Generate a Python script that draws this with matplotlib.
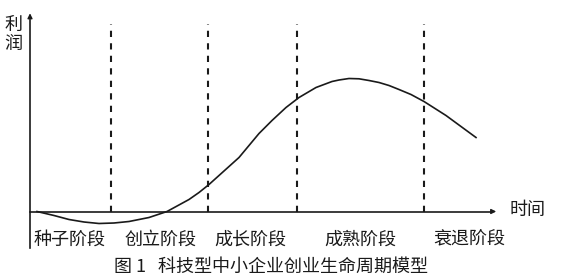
import matplotlib
matplotlib.use("Agg")
import matplotlib.pyplot as plt

plt.rcParams['font.family'] = ['Noto Sans CJK SC', 'DejaVu Sans']

# Curve: time (x) vs profit (y), arbitrary units
time = [7, 24, 39, 54, 69, 84, 99, 119, 137, 159, 169, 179, 189, 199, 209, 219, 229,
        242, 256, 269, 286, 302, 309, 319, 329, 339, 349, 359, 369, 381, 394, 405, 416, 431, 446]
profit = [0, -4, -8, -10.5, -12, -11.5, -10, -6, 0, 12, 19, 27, 36, 45, 54, 66, 78,
          91, 104, 114, 124, 130, 131.5, 133, 132.7, 131, 129, 126, 122, 117, 110, 103, 96, 85, 74]

stage_bounds = [81, 178, 267, 394]
stage_labels = ["种子阶段", "创立阶段", "成长阶段", "成熟阶段", "衰退阶段"]
stage_label_x = [40, 131, 220, 330, 439]
x_label = "时间"
y_label = "利\n润"
caption = "图 1   科技型中小企业创业生命周期模型"

fig = plt.figure(figsize=(5.7, 2.78), dpi=100)
ax = fig.add_axes([0, 0, 1, 1])
ax.set_xlim(-30, 540)
ax.set_ylim(-66.5, 211.5)
ax.axis('off')

ink = '#1a1a1a'
# axes
ax.plot([0, 0], [-36, 192], color=ink, lw=1.2)
ax.annotate('', xy=(0, 201), xytext=(0, 190),
            arrowprops=dict(arrowstyle='-|>', color=ink, lw=1.0, mutation_scale=7))
ax.plot([0, 462], [0, 0], color=ink, lw=1.2)
ax.annotate('', xy=(469, 0), xytext=(458, 0),
            arrowprops=dict(arrowstyle='-|>', color=ink, lw=1.0, mutation_scale=7))

for b in stage_bounds:
    ax.plot([b, b], [0, 188], color=ink, lw=1.5, dashes=(3, 3))

ax.plot(time, profit, color=ink, lw=1.2)

for lx, lab in zip(stage_label_x, stage_labels):
    ax.text(lx, -28, lab, ha='center', va='center', fontsize=13, color=ink)

ax.text(480, 1, x_label, ha='left', va='center', fontsize=13, color=ink)
ax.text(-17, 177, y_label, ha='center', va='center', fontsize=13, color=ink, linespacing=1.1)
ax.text(241, -55, caption, ha='center', va='center', fontsize=13, color=ink)

fig.savefig('out.png', dpi=100)
